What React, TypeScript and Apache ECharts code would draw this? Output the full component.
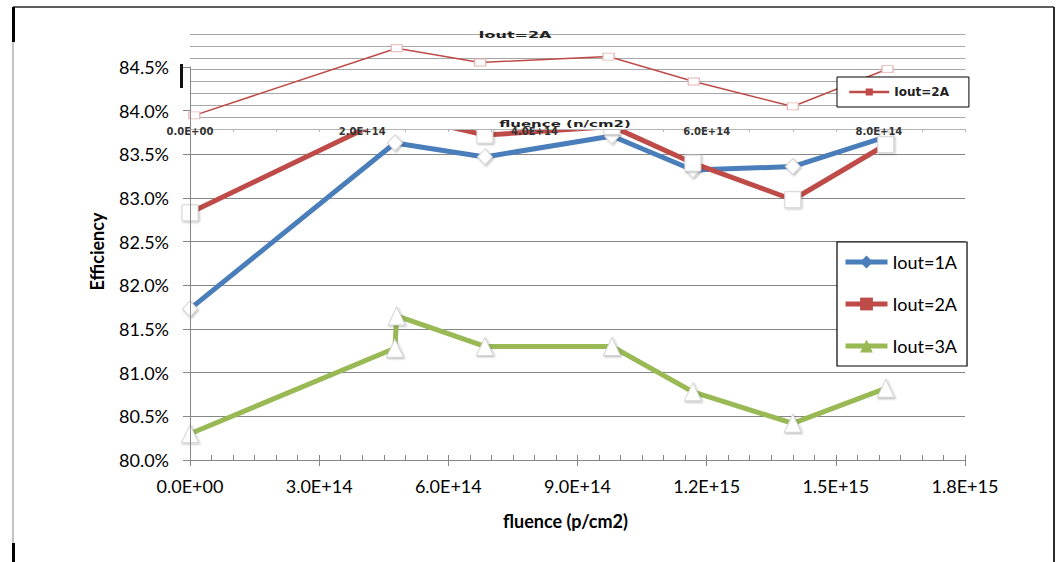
import React, { useEffect, useRef } from 'react';
import * as echarts from 'echarts';

// ---- data ----
const seriesNames = ['Iout=1A', 'Iout=2A', 'Iout=3A'];
// proton fluence (p/cm2)
const fluenceP = [0, 4.76e14, 6.85e14, 9.8e14, 11.68e14, 14.0e14, 16.16e14];
const eff1A = [81.73, 83.63, 83.47, 83.71, 83.32, 83.36, 83.7];
const eff2A = [82.83, 83.96, 83.72, 83.82, 83.4, 82.98, 83.61];
const fluence3A = [0, 4.76e14, 4.8e14, 6.85e14, 9.8e14, 11.68e14, 14.0e14, 16.16e14];
const eff3A = [80.3, 81.28, 81.65, 81.3, 81.3, 80.78, 80.42, 80.82];
// inset: same Iout=2A efficiency vs neutron fluence (n/cm2)
const fluenceN = [0.05e14, 2.4e14, 3.37e14, 4.86e14, 5.85e14, 7.0e14, 8.1e14];
const insetName = 'Iout=2A (inset)';
const insetTitle = 'Iout=2A';
const insetAxisTitle = 'fluence (n/cm2)';

// axis settings
const yMin = 80;
const yMax = 84.5;
const yStep = 0.5;
const xMax = 1.8e15;
const xStep = 3e14;
const xMinorStep = 5e13;
const insetXMax = 9e14;
const insetXStep = 2e14;
const insetYMin = 82.6;
const insetYMax = 84.2;
const insetYStep = 0.2;

const colors = ['#4a7ebb', '#be4b48', '#98b954'];
const FONT = 'Lato, "Open Sans", sans-serif';
const SMALL = 'Verdana, "DejaVu Sans", sans-serif';

function fmtE(v: number): string {
  const s = v.toExponential(1);
  const [m, e] = s.split('e');
  const sign = e[0] === '-' ? '-' : '+';
  const n = Math.abs(parseInt(e, 10));
  return m + 'E' + sign + (n < 10 ? '0' + n : String(n));
}

const markerStyle = {
  color: '#ffffff',
  borderColor: '#d4d4d4',
  borderWidth: 1,
  shadowBlur: 2,
  shadowColor: 'rgba(0,0,0,0.3)',
  shadowOffsetX: 1,
  shadowOffsetY: 1,
};

export default function App() {
  const ref = useRef<HTMLDivElement>(null);

  useEffect(() => {
    if (!ref.current) return;
    const chart = echarts.init(ref.current, undefined, { renderer: 'svg' });
    const axisGrey = '#868686';

    const option: any = {
      animation: false,
      backgroundColor: '#ffffff',
      textStyle: { fontFamily: FONT },
      grid: [
        { left: 190, top: 67, width: 775, height: 393 },
        { left: 190, top: 34, width: 775, height: 95, show: true, backgroundColor: '#ffffff', borderWidth: 0, z: 4 },
      ],
      legend: [
        {
          data: seriesNames.map((n, i) => ({
            name: n,
            itemStyle: { color: colors[i], borderWidth: 0, shadowBlur: 0 },
            lineStyle: { width: 5, color: colors[i] },
          })),
          orient: 'vertical',
          left: 837,
          top: 242,
          itemWidth: 42,
          itemHeight: 16,
          itemGap: 24,
          padding: [11, 10, 11, 6],
          borderColor: '#000',
          borderWidth: 1.2,
          backgroundColor: '#fff',
          textStyle: { fontSize: 18, color: '#000', fontFamily: FONT },
          z: 8,
        },
        {
          data: [{
            name: insetName,
            itemStyle: { color: colors[1], borderWidth: 0, shadowBlur: 0 },
            lineStyle: { width: 2.5, color: colors[1] },
          }],
          formatter: () => 'Iout=2A',
          orient: 'vertical',
          left: 837,
          top: 77,
          itemWidth: 40,
          itemHeight: 9,
          padding: [9, 20, 9, 11],
          borderColor: '#000',
          borderWidth: 1,
          backgroundColor: '#fff',
          textStyle: { fontSize: 12, fontWeight: 'bold', color: '#222', fontFamily: SMALL },
          z: 8,
        },
      ],
      xAxis: [
        {
          gridIndex: 0,
          type: 'value',
          min: 0,
          max: xMax,
          interval: xStep,
          position: 'bottom',
          name: 'fluence (p/cm2)',
          nameLocation: 'middle',
          nameGap: 52,
          nameTextStyle: { fontSize: 18, fontWeight: 'bold', color: '#000', padding: [0, 24, 0, 0], fontFamily: FONT },
          axisLine: { lineStyle: { color: axisGrey, width: 1 } },
          axisTick: { show: true, length: 6, lineStyle: { color: axisGrey } },
          axisLabel: { formatter: fmtE, fontSize: 18, color: '#000', margin: 17, fontFamily: FONT },
          splitLine: { show: false },
        },
        {
          gridIndex: 0,
          type: 'value',
          min: 0,
          max: xMax,
          interval: xMinorStep,
          position: 'bottom',
          axisLine: { show: false },
          axisTick: { show: true, inside: true, length: 5, lineStyle: { color: axisGrey } },
          axisLabel: { show: false },
          splitLine: { show: false },
        },
        {
          gridIndex: 1,
          type: 'value',
          min: 0,
          max: insetXMax,
          interval: insetXStep,
          position: 'bottom',
          z: 5,
          axisLine: { lineStyle: { color: '#b4b4b4', width: 1 } },
          axisTick: { show: true, length: 3, lineStyle: { color: '#b4b4b4' } },
          minorTick: { show: true, splitNumber: 4, length: 3, lineStyle: { color: '#b4b4b4' } },
          axisLabel: {
            formatter: (v: number) => (Math.round(v / 1e14) % 2 === 0 ? fmtE(v) : ''),
            showMaxLabel: false,
            fontSize: 10,
            fontWeight: 'bold',
            color: '#333',
            margin: -3,
            fontFamily: SMALL,
          },
          splitLine: { show: false },
        },
      ],
      yAxis: [
        {
          gridIndex: 0,
          type: 'value',
          min: yMin,
          max: yMax,
          interval: yStep,
          position: 'left',
          name: 'Efficiency',
          nameLocation: 'middle',
          nameGap: 84,
          nameTextStyle: { fontSize: 18, fontWeight: 'bold', color: '#000', padding: [0, 0, 0, 24], fontFamily: FONT },
          axisLine: { show: true, lineStyle: { color: axisGrey } },
          axisTick: { show: true, length: 7, lineStyle: { color: axisGrey } },
          axisLabel: { formatter: (v: number) => v.toFixed(1) + '%', fontSize: 18, color: '#000', margin: 21, fontFamily: FONT },
          splitLine: { show: true, lineStyle: { color: axisGrey, width: 1 } },
        },
        {
          gridIndex: 1,
          type: 'value',
          min: insetYMin,
          max: insetYMax,
          interval: insetYStep,
          position: 'left',
          z: 5,
          axisLine: { show: false },
          axisTick: { show: false },
          axisLabel: { show: false },
          splitLine: { show: true, lineStyle: { color: '#a6a6a6', width: 1 } },
        },
        {
          gridIndex: 0,
          type: 'value',
          min: yMin,
          max: yMax,
          position: 'left',
          z: 7,
          axisLine: { show: true, lineStyle: { color: axisGrey } },
          axisTick: { show: false },
          axisLabel: { show: false },
          splitLine: { show: false },
        },
      ],
      series: [
        {
          name: seriesNames[0],
          type: 'line',
          xAxisIndex: 0,
          yAxisIndex: 0,
          data: fluenceP.map((x, i) => [x, eff1A[i]]),
          symbol: 'diamond',
          symbolSize: [15, 16],
          lineStyle: { width: 5, color: colors[0] },
          itemStyle: markerStyle,
          color: colors[0],
        },
        {
          name: seriesNames[1],
          type: 'line',
          xAxisIndex: 0,
          yAxisIndex: 0,
          data: fluenceP.map((x, i) => [x, eff2A[i]]),
          symbol: 'rect',
          symbolSize: 16,
          lineStyle: { width: 5, color: colors[1] },
          itemStyle: markerStyle,
          color: colors[1],
        },
        {
          name: seriesNames[2],
          type: 'line',
          xAxisIndex: 0,
          yAxisIndex: 0,
          data: fluence3A.map((x, i) => [x, eff3A[i]]),
          symbol: 'triangle',
          symbolSize: [17, 18],
          lineStyle: { width: 5, color: colors[2] },
          itemStyle: markerStyle,
          color: colors[2],
        },
        {
          name: insetName,
          type: 'line',
          xAxisIndex: 2,
          yAxisIndex: 1,
          z: 6,
          data: fluenceN.map((x, i) => [x, eff2A[i]]),
          symbol: 'rect',
          symbolSize: [11, 7],
          lineStyle: { width: 1.5, color: colors[1] },
          itemStyle: { color: '#ffffff', borderColor: '#e3b3b2', borderWidth: 1 },
          color: colors[1],
        },
      ],
      graphic: [
        {
          type: 'text',
          x: 515,
          y: 35,
          z: 20,
          scaleX: 1.6,
          scaleY: 0.85,
          style: {
            text: insetTitle,
            textAlign: 'center',
            textVerticalAlign: 'middle',
            font: 'bold 10px Verdana, "DejaVu Sans", sans-serif',
            fill: '#222',
          },
        },
        {
          type: 'text',
          x: 565,
          y: 124,
          z: 20,
          scaleX: 1.5,
          scaleY: 0.9,
          style: {
            text: insetAxisTitle,
            textAlign: 'center',
            textVerticalAlign: 'middle',
            font: 'bold 10px Verdana, "DejaVu Sans", sans-serif',
            fill: '#222',
          },
        },
        { type: 'rect', z: 20, shape: { x: 180, y: 64, width: 3, height: 24 }, style: { fill: '#111' } },
        { type: 'line', z: 20, shape: { x1: 13, y1: 7, x2: 1054, y2: 7 }, style: { stroke: '#2a2a2a', lineWidth: 1.5 } },
        { type: 'line', z: 20, shape: { x1: 1054, y1: 7, x2: 1054, y2: 562 }, style: { stroke: '#2a2a2a', lineWidth: 2 } },
        { type: 'line', z: 20, shape: { x1: 13, y1: 7, x2: 13, y2: 562 }, style: { stroke: '#8a8a8a', lineWidth: 1 } },
        { type: 'line', z: 20, shape: { x1: 13.5, y1: 7, x2: 13.5, y2: 42 }, style: { stroke: '#000', lineWidth: 3 } },
        { type: 'line', z: 20, shape: { x1: 13.5, y1: 543, x2: 13.5, y2: 562 }, style: { stroke: '#000', lineWidth: 3 } },
      ],
    };

    chart.setOption(option);
    return () => {
      chart.dispose();
    };
  }, []);

  return (
    <div
      ref={ref}
      style={{ position: 'absolute', left: 0, top: 0, width: 1059, height: 562 }}
    />
  );
}
